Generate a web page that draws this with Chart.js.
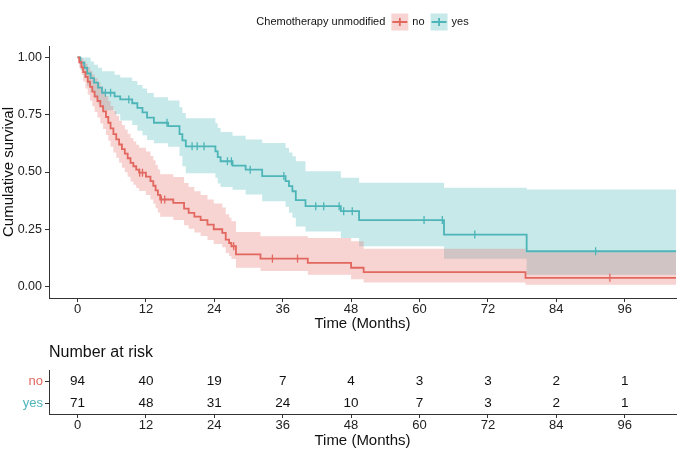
<!DOCTYPE html>
<html lang="en">
<head>
<meta charset="UTF-8">
<title>Kaplan-Meier: Chemotherapy unmodified</title>
<script src="https://cdn.jsdelivr.net/npm/chart.js"></script>
<style>
  html, body { margin: 0; padding: 0; background: #fff; }
  #wrap { position: relative; width: 682px; height: 454px; }
  #km { position: absolute; left: 0; top: 0; }
  #risk { position: absolute; left: 0; top: 340px; }
</style>
</head>
<body>
<div id="wrap">
  <canvas id="km" width="682" height="340"></canvas>
  <canvas id="risk" width="682" height="114"></canvas>
</div>
<script>
// values (months / survival probability)
const groups = ["no", "yes"];
const legendTitle = "Chemotherapy unmodified";
const xTicks = [0, 12, 24, 36, 48, 60, 72, 84, 96];
const yTicks = [0, 0.25, 0.5, 0.75, 1];

const noTime  = [0,0.3,0.7,1.0,1.4,1.8,2.2,2.6,3.0,3.5,4.0,4.5,5.0,5.4,5.8,6.3,6.8,7.3,7.8,8.3,8.8,9.3,9.8,10.3,10.8,12.0,12.8,13.3,13.7,14.1,14.5,16.8,18.7,19.5,20.5,21.6,22.8,23.9,25.4,26.0,26.6,27.0,27.8,32.1,40.4,48.0,50.2,78.6,105];
const noSurv  = [1,0.979,0.957,0.936,0.915,0.894,0.872,0.851,0.830,0.810,0.787,0.765,0.740,0.715,0.690,0.665,0.642,0.620,0.600,0.580,0.560,0.540,0.525,0.510,0.497,0.480,0.460,0.440,0.420,0.400,0.380,0.365,0.340,0.322,0.305,0.290,0.270,0.250,0.234,0.205,0.190,0.176,0.140,0.122,0.103,0.082,0.063,0.038,0.038];
const noUpper = [1,1,0.995,0.985,0.972,0.958,0.942,0.926,0.910,0.893,0.873,0.853,0.832,0.810,0.788,0.766,0.745,0.724,0.705,0.686,0.667,0.648,0.633,0.619,0.606,0.590,0.570,0.551,0.531,0.511,0.490,0.478,0.452,0.434,0.416,0.400,0.380,0.362,0.345,0.316,0.300,0.285,0.238,0.220,0.212,0.198,0.165,0.150,0.150];
const noLower = [1,0.955,0.925,0.895,0.865,0.838,0.812,0.787,0.762,0.738,0.712,0.688,0.662,0.636,0.610,0.585,0.562,0.540,0.519,0.499,0.479,0.459,0.444,0.430,0.417,0.400,0.380,0.361,0.342,0.323,0.305,0.290,0.268,0.252,0.236,0.221,0.203,0.186,0.172,0.146,0.133,0.120,0.082,0.068,0.052,0.032,0.018,0.008,0.008];
const noCensor = [10.9, 11.4, 14.7, 15.3, 27.4, 34.2, 38.6, 93.4];

const yesTime  = [0,0.5,1.2,1.7,2.3,2.9,3.6,4.3,6.5,7.5,9.6,10.5,11.4,12.2,13.4,15.9,17.9,18.4,19.0,24.2,24.6,25.1,27.2,29.5,32.4,36.5,37.1,37.7,38.3,40.0,46.2,49.4,64.3,78.8,105];
const yesSurv  = [1,0.977,0.955,0.930,0.910,0.890,0.868,0.846,0.830,0.817,0.800,0.780,0.760,0.737,0.715,0.700,0.665,0.638,0.612,0.590,0.565,0.547,0.528,0.510,0.482,0.460,0.438,0.416,0.377,0.351,0.329,0.290,0.227,0.154,0.154];
const yesUpper = [1,1,1,1,0.982,0.968,0.955,0.940,0.925,0.912,0.897,0.880,0.864,0.845,0.826,0.812,0.783,0.758,0.735,0.713,0.692,0.675,0.658,0.642,0.627,0.606,0.585,0.569,0.547,0.503,0.475,0.453,0.431,0.424,0.424];
const yesLower = [1,0.944,0.910,0.875,0.848,0.822,0.796,0.770,0.752,0.725,0.705,0.680,0.660,0.640,0.625,0.610,0.570,0.525,0.495,0.475,0.450,0.435,0.422,0.402,0.372,0.348,0.322,0.300,0.262,0.240,0.212,0.176,0.121,0.052,0.052];
const yesCensor = [4.9, 5.8, 9.0, 15.7, 20.1, 21.0, 22.2, 26.3, 27.0, 30.3, 36.2, 41.8, 43.2, 45.9, 46.7, 48.2, 60.8, 64.0, 69.7, 90.9];

// number at risk
const riskTimes = [0, 12, 24, 36, 48, 60, 72, 84, 96];
const riskNo  = [94, 40, 19, 7, 4, 3, 3, 2, 1];
const riskYes = [71, 48, 31, 24, 10, 7, 3, 2, 1];

const lineColors = ["#E2675F", "#4DB5B8"];
const bandColors = ["rgba(228,110,105,0.3)", "rgba(70,182,186,0.3)"];
const FONT = '"Liberation Sans", Arial, Helvetica, sans-serif';

function pts(xs, ys) { return xs.map((x, i) => ({ x: x, y: ys[i] })); }
function survAt(times, surv, t) {
    let s = surv[0];
    for (let i = 0; i < times.length; i++) if (times[i] <= t) s = surv[i];
    return s;
}
function censorPts(cens, times, surv) { return cens.map(t => ({ x: t, y: survAt(times, surv, t) })); }

const bandDs = (data, color, fill) => ({
    data: data, borderWidth: 0, pointRadius: 0, stepped: true,
    fill: fill, backgroundColor: color, borderColor: "transparent"
});
const lineDs = (data, color) => ({
    data: data, borderWidth: 1.8, pointRadius: 0, stepped: true,
    fill: false, borderColor: color
});
const censorDs = (data, color) => ({
    data: data, showLine: false, pointStyle: "line", rotation: 90,
    pointRadius: 4, pointBorderWidth: 1.3, borderColor: color, pointBorderColor: color
});

// legend drawn like the ggplot key: title, then boxes with a cross
const keyLegend = {
    id: "keyLegend",
    afterDraw(chart) {
        const ctx = chart.ctx, a = chart.chartArea, y = 22;
        ctx.save();
        ctx.font = "11px " + FONT;
        ctx.textBaseline = "middle";
        const key = 17, gap = 4, sep = 6;
        const titleW = ctx.measureText(legendTitle).width;
        const labW = groups.map(g => ctx.measureText(g).width);
        let total = titleW + sep;
        groups.forEach((g, i) => { total += key + gap + labW[i] + (i < groups.length - 1 ? sep : 0); });
        let x = (a.left + a.right) / 2 - total / 2;
        ctx.fillStyle = "#111";
        ctx.fillText(legendTitle, x, y);
        x += titleW + sep;
        groups.forEach((g, i) => {
            ctx.fillStyle = bandColors[i];
            ctx.fillRect(x, y - key / 2, key, key);
            ctx.strokeStyle = lineColors[i];
            ctx.lineWidth = 1.8;
            ctx.beginPath();
            ctx.moveTo(x + 1, y); ctx.lineTo(x + key - 1, y);
            ctx.moveTo(x + key / 2, y - 4); ctx.lineTo(x + key / 2, y + 4);
            ctx.stroke();
            x += key + gap;
            ctx.fillStyle = "#111";
            ctx.fillText(g, x, y);
            x += labW[i] + sep;
        });
        ctx.restore();
    }
};

const axisX = (h, pb) => ({
    type: "linear", min: -5, max: 105,
    afterBuildTicks: s => { s.ticks = xTicks.map(v => ({ value: v })); },
    afterFit: s => { s.height = h; },
    ticks: { color: "#222", font: { family: FONT, size: 13 }, padding: 0, maxRotation: 0 },
    grid: { drawOnChartArea: false, tickLength: 4, color: "#333" },
    border: { color: "#333", width: 1 },
    title: { display: true, text: "Time (Months)", color: "#111", font: { family: FONT, size: 15 }, padding: { top: 0, bottom: pb } }
});

new Chart(document.getElementById("km"), {
    type: "line",
    data: {
        datasets: [
            bandDs(pts(noTime, noUpper), bandColors[0], "+1"),
            bandDs(pts(noTime, noLower), bandColors[0], false),
            bandDs(pts(yesTime, yesUpper), bandColors[1], "+1"),
            bandDs(pts(yesTime, yesLower), bandColors[1], false),
            lineDs(pts(noTime, noSurv), lineColors[0]),
            lineDs(pts(yesTime, yesSurv), lineColors[1]),
            censorDs(censorPts(noCensor, noTime, noSurv), lineColors[0]),
            censorDs(censorPts(yesCensor, yesTime, yesSurv), lineColors[1])
        ]
    },
    options: {
        responsive: false,
        animation: false,
        events: [],
        layout: { padding: { top: 46, left: 0, right: 6, bottom: 0 } },
        scales: {
            x: axisX(42, 7),
            y: {
                type: "linear", min: -0.05, max: 1.05,
                afterBuildTicks: s => { s.ticks = yTicks.map(v => ({ value: v })); },
                afterFit: s => { s.width = 49; },
                ticks: { color: "#222", font: { family: FONT, size: 12.5 }, padding: 3, callback: v => v.toFixed(2) },
                grid: { drawOnChartArea: false, tickLength: 4, color: "#333" },
                border: { color: "#333", width: 1 },
                title: { display: true, text: "Cumulative survival", color: "#111", font: { family: FONT, size: 15 }, padding: 0 }
            }
        },
        plugins: {
            legend: { display: false },
            tooltip: { enabled: false },
            filler: { drawTime: "beforeDatasetsDraw" }
        }
    },
    plugins: [keyLegend]
});

// risk table: numbers placed through the chart's own scales
const riskNumbers = {
    id: "riskNumbers",
    afterDatasetsDraw(chart) {
        const ctx = chart.ctx;
        ctx.save();
        ctx.font = "13.5px " + FONT;
        ctx.fillStyle = "#111";
        ctx.textAlign = "center";
        ctx.textBaseline = "middle";
        chart.data.datasets.forEach((ds, i) => {
            chart.getDatasetMeta(i).data.forEach((pt, j) => {
                ctx.fillText(String(ds.data[j].n), pt.x, pt.y);
            });
        });
        ctx.restore();
    }
};

const riskRow = (g, counts) => ({
    data: riskTimes.map((t, i) => ({ x: t, y: g, n: counts[i] })),
    showLine: false, pointRadius: 0
});

new Chart(document.getElementById("risk"), {
    type: "line",
    data: { datasets: [riskRow("no", riskNo), riskRow("yes", riskYes)] },
    options: {
        responsive: false,
        animation: false,
        events: [],
        layout: { padding: { top: 0, left: 0, right: 6, bottom: 0 } },
        scales: {
            x: axisX(40, 4),
            y: {
                type: "category", labels: groups, offset: true,
                afterFit: s => { s.width = 49; },
                ticks: { font: { family: FONT, size: 13 }, padding: 2, color: c => lineColors[c.index] },
                grid: { drawOnChartArea: false, tickLength: 4, color: "#333", offset: false },
                border: { color: "#333", width: 1 }
            }
        },
        plugins: {
            legend: { display: false },
            tooltip: { enabled: false },
            title: {
                display: true, fullSize: false, text: "Number at risk", align: "start", color: "#111",
                font: { family: FONT, size: 16, weight: "normal" }, padding: { top: 3, bottom: 8 }
            }
        }
    },
    plugins: [riskNumbers]
});
</script>
</body>
</html>
